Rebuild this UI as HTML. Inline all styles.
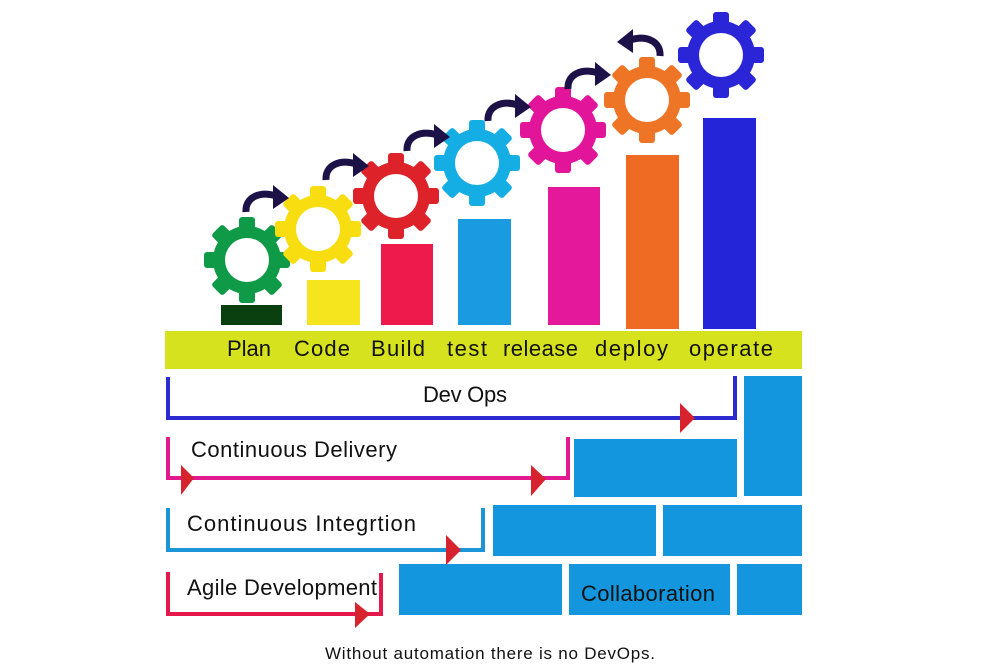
<!DOCTYPE html>
<html><head><meta charset="utf-8"><style>
html,body{margin:0;padding:0;background:#fff;}
svg{display:block;}
text{font-family:"Liberation Sans",sans-serif;}
</style></head><body>
<svg width="983" height="667" viewBox="0 0 983 667" xmlns="http://www.w3.org/2000/svg">
<defs>
<g id="gear">
<circle r="34"/>
<rect x="-8" y="-43" width="16" height="86" rx="3"/>
<rect x="-8" y="-43" width="16" height="86" rx="3" transform="rotate(45)"/>
<rect x="-8" y="-43" width="16" height="86" rx="3" transform="rotate(90)"/>
<rect x="-8" y="-43" width="16" height="86" rx="3" transform="rotate(135)"/>
<circle r="22" fill="#fff"/>
</g>
<g id="arr">
<path d="M0,8 C-1,-7 14,-13 30,-8" fill="none" stroke="#1c1248" stroke-width="7"/>
<polygon points="27,-19 43,-6 27,5" fill="#1c1248"/>
</g>
</defs>
<!-- bars -->
<rect x="221" y="305" width="61" height="20" fill="#0a4010"/>
<rect x="307" y="280" width="53" height="45" fill="#f4e51e"/>
<rect x="381" y="244" width="52" height="81" fill="#ef1a4c"/>
<rect x="458" y="219" width="53" height="106" fill="#1a9ae0"/>
<rect x="548" y="187" width="52" height="138" fill="#e4189b"/>
<rect x="626" y="155" width="53" height="174" fill="#ef6a22"/>
<rect x="703" y="118" width="53" height="211" fill="#2424d8"/>
<!-- gears -->
<use href="#gear" fill="#0f9a48" x="247" y="260"/>
<use href="#gear" fill="#f8de10" x="318" y="229"/>
<use href="#gear" fill="#de2229" x="396" y="196"/>
<use href="#gear" fill="#14ade4" x="477" y="163"/>
<use href="#gear" fill="#e2159a" x="563" y="130"/>
<use href="#gear" fill="#ee7525" x="647" y="100"/>
<use href="#gear" fill="#2a25d6" x="721" y="55"/>
<!-- arrows -->
<use href="#arr" x="246" y="204"/>
<use href="#arr" x="326" y="172"/>
<use href="#arr" x="407" y="143"/>
<use href="#arr" x="488" y="113"/>
<use href="#arr" x="568" y="81"/>
<g transform="translate(660,48) scale(-1,1)"><use href="#arr"/></g>
<!-- band -->
<rect x="165" y="331" width="637" height="38" fill="#d7e21e"/>
<g font-size="22" fill="#111">
<text x="227" y="356" textLength="44">Plan</text>
<text x="294" y="356" textLength="56">Code</text>
<text x="371" y="356" textLength="54">Build</text>
<text x="447" y="356" textLength="40">test</text>
<text x="503" y="356" textLength="75">release</text>
<text x="595" y="356" textLength="73">deploy</text>
<text x="689" y="356" textLength="84">operate</text>
</g>
<!-- blocks -->
<g fill="#1396dd">
<rect x="744" y="376" width="58" height="120"/>
<rect x="574" y="439" width="163" height="58"/>
<rect x="493" y="505" width="163" height="51"/>
<rect x="663" y="505" width="139" height="51"/>
<rect x="399" y="564" width="163" height="51"/>
<rect x="569" y="564" width="161" height="51"/>
<rect x="737" y="564" width="65" height="51"/>
</g>
<text x="581" y="601" font-size="22" fill="#111" textLength="134">Collaboration</text>
<!-- brackets -->
<polyline points="168,377 168,418 735,418 735,376" fill="none" stroke="#2b2bcf" stroke-width="4"/>
<polygon points="680,403 695,418 680,433" fill="#d6232e"/>
<text x="423" y="402" font-size="22" fill="#111" textLength="84">Dev Ops</text>
<polyline points="168,437 168,478 568,478 568,437" fill="none" stroke="#e0198f" stroke-width="4"/>
<polygon points="181,465 194,478 181,495" fill="#d6232e"/>
<polygon points="531,465 546,479 531,496" fill="#d6232e"/>
<text x="191" y="457" font-size="22" fill="#111" textLength="206">Continuous  Delivery</text>
<polyline points="168,508 168,550 483,550 483,508" fill="none" stroke="#1c94d8" stroke-width="4"/>
<polygon points="446,535 461,550 446,565" fill="#d6232e"/>
<text x="187" y="531" font-size="22" fill="#111" textLength="229">Continuous   Integrtion</text>
<polyline points="168,572 168,614 381,614 381,573" fill="none" stroke="#e5184b" stroke-width="4"/>
<polygon points="355,602 370,614 355,628" fill="#d6232e"/>
<text x="187" y="595" font-size="22" fill="#111" textLength="190">Agile Development</text>
<text x="325" y="659" font-size="17" fill="#111" textLength="330">Without automation there is no DevOps.</text>
</svg>
</body></html>
